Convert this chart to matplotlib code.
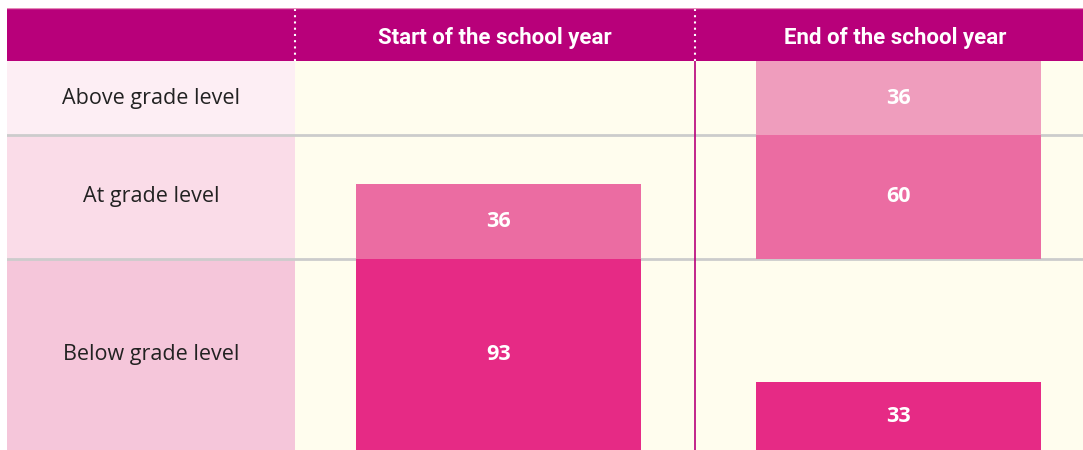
import numpy as np
import matplotlib.pyplot as plt

# data
rows = ["Below grade level", "At grade level", "Above grade level"]
columns = ["Start of the school year", "End of the school year"]
start_vals = [93, 36, 0]
end_vals = [33, 60, 36]

row_bg = ["#F5C6DA", "#FADCE8", "#FDEEF4"]
bar_cols = ["#E62A85", "#EB6CA2", "#EF9DBD"]
header_col = "#B8007A"
cream = "#FFFDEE"

W, H = 1083, 450
fig = plt.figure(figsize=(W / 100, H / 100), dpi=100, facecolor="white")

top = 61
hdr_top = 8
x_lab = 7
x_col = 295

# row heights = max value in each row, stacked bottom to top
row_h = [max(s, e) for s, e in zip(start_vals, end_vals)]
row_base = np.concatenate([[0], np.cumsum(row_h)[:-1]])
total = sum(row_h)

ax = fig.add_axes([x_col / W, 0, (W - x_col) / W, (H - top) / H])
lax = fig.add_axes([x_lab / W, 0, (x_col - x_lab) / W, (H - top) / H])
hax = fig.add_axes([x_lab / W, (H - top) / H, (W - x_lab) / W, (top - hdr_top) / H])

xmin = -0.5
xmax = (W - x_col) / 400 - 0.5
ax.set_xlim(xmin, xmax)
ax.set_ylim(0, total)
ax.set_facecolor(cream)

shift = 0.009  # bars sit a touch right of the column centre
for i in range(len(rows)):
    vals = [start_vals[i], end_vals[i]]
    for j, v in enumerate(vals):
        if v <= 0:
            continue
        ax.bar(j + shift, v, bottom=row_base[i], width=285 / 400, color=bar_cols[i], zorder=3)
        ax.text(j + shift, row_base[i] + v / 2, str(v), ha="center", va="center",
                color="white", fontsize=15.5, fontweight="bold",
                family="Open Sans", zorder=4)

# separators
for b in row_base[1:]:
    ax.axhline(b, color="#CCCCCC", lw=2, zorder=2)
ax.axvline(0.5, color=header_col, lw=1.2, zorder=5)

# label column
lax.set_xlim(0, 1)
lax.set_ylim(0, total)
for i, r in enumerate(rows):
    lax.axhspan(row_base[i], row_base[i] + row_h[i], color=row_bg[i], lw=0)
    lax.text(0.5, row_base[i] + row_h[i] / 2, r, ha="center", va="center",
             fontsize=15.5, color="#222222", family="Open Sans")
for b in row_base[1:]:
    lax.axhline(b, color="#CCCCCC", lw=2, zorder=2)

# header
hax.set_facecolor(header_col)
hax.set_xlim((x_lab - x_col) / 400 - 0.5, xmax)
hax.set_ylim(0, 1)
for j, c in enumerate(columns):
    hax.text(j, 0.44, c, ha="center", va="center", color="white",
             fontsize=16, fontweight="bold", family="Roboto")
for xv in [-0.5, 0.5]:
    hax.axvline(xv, color="white", lw=1.5, ls=(0, (1, 2)))
hax.axhline(1, color="#E58AB8", lw=1)

for a in (ax, lax, hax):
    a.set_xticks([])
    a.set_yticks([])
    for s in a.spines.values():
        s.set_visible(False)

fig.savefig("out.png", dpi=100, facecolor="white")
